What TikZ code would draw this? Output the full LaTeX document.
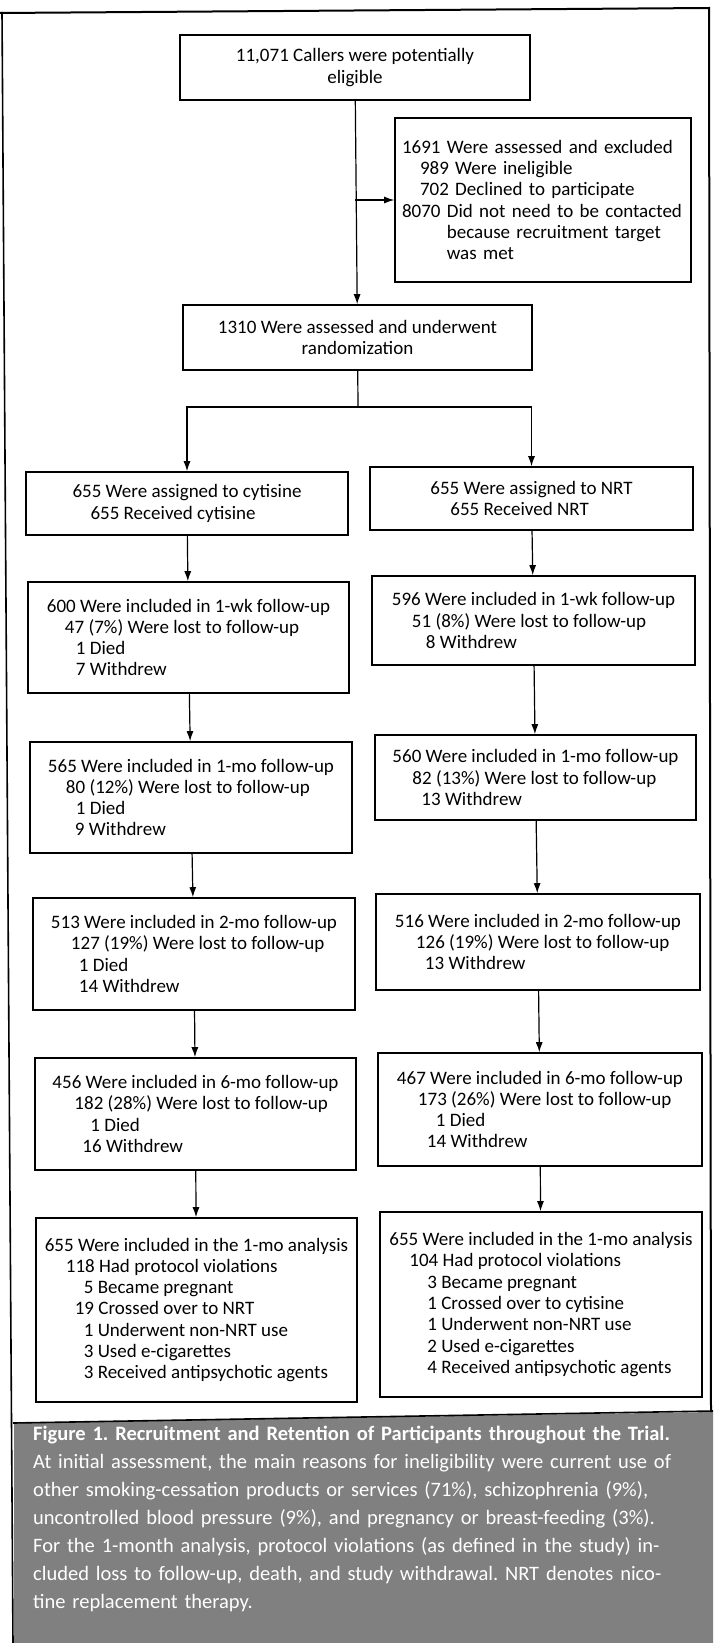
\documentclass[tikz,border=0pt]{standalone}
\usepackage{fontspec}
\setmainfont{Carlito}
\usetikzlibrary{arrows, arrows.meta}

\begin{document}
\frenchspacing
\begin{tikzpicture} [x = 1pt, y = -1pt,
  box/.style = {draw, line width = 1.6pt, inner sep = 0pt, align = left, font = \fontsize{19}{21.3}\selectfont},
  link/.style = {line width = 1.2pt, -{Latex[length = 10pt, width = 7pt]}},
  caption/.style = {anchor = north west, inner sep = 0pt, text width = 672pt, align = left, text = white, font = \fontsize{20.5}{28}\selectfont}]
\useasboundingbox (0,0) rectangle (713,1643);
\fill[black!50] (14,1423) -- (713,1412) -- (713,1643) -- (14,1643) -- cycle;
\draw[line width = 2pt] (0,13) -- (709,8) -- (711,1412);
\draw[line width = 1.6pt] (2,12) -- (13,1643);
\draw[line width = 1.6pt] (13,1423) -- (713,1411);
\node[box, align = center, minimum width = 350pt, minimum height = 65pt](a1) at (355,67.5){11,071 Callers were potentially\\eligible};
\node[box, text width = 282pt, minimum width = 296pt, minimum height = 164pt](a2) at (543,200){1691 Were assessed and excluded\\
  \hspace*{18pt}989 Were ineligible\\
  \hspace*{18pt}702 Declined to participate\\
  8070 Did not need to be contacted\\
  \phantom{8070 }because recruitment target\\
  \phantom{8070 }was met};
\node[box, align = center, minimum width = 349pt, minimum height = 65pt](a3) at (357.5,337.5){1310 Were assessed and underwent\\randomization};
\node[box, minimum width = 322pt, minimum height = 63pt](b1) at (187,503.5){655 Were assigned to cytisine\\
  \hspace*{18pt}655 Received cytisine};
\node[box, minimum width = 323pt, minimum height = 63pt](c1) at (531.5,498.5){655 Were assigned to NRT\\
  \hspace*{20pt}655 Received NRT};
\node[box, minimum width = 321pt, minimum height = 111pt](b2) at (188.5,637.5){600 Were included in 1-wk follow-up\\
  \hspace*{18pt}47 (7\%) Were lost to follow-up\\
  \hspace*{29pt}1 Died\\
  \hspace*{29pt}7 Withdrew};
\node[box, minimum width = 323pt, minimum height = 89pt](c2) at (533.5,620.5){596 Were included in 1-wk follow-up\\
  \hspace*{20pt}51 (8\%) Were lost to follow-up\\
  \hspace*{34pt}8 Withdrew};
\node[box, minimum width = 322pt, minimum height = 111pt](b3) at (191,797.5){565 Were included in 1-mo follow-up\\
  \hspace*{18pt}80 (12\%) Were lost to follow-up\\
  \hspace*{28pt}1 Died\\
  \hspace*{27pt}9 Withdrew};
\node[box, minimum width = 321pt, minimum height = 85pt](c3) at (535.5,777.5){560 Were included in 1-mo follow-up\\
  \hspace*{20pt}82 (13\%) Were lost to follow-up\\
  \hspace*{29pt}13 Withdrew};
\node[box, minimum width = 322pt, minimum height = 112pt](b4) at (194,954){513 Were included in 2-mo follow-up\\
  \hspace*{20pt}127 (19\%) Were lost to follow-up\\
  \hspace*{28pt}1 Died\\
  \hspace*{28pt}14 Withdrew};
\node[box, minimum width = 324pt, minimum height = 96pt](c4) at (538,942){516 Were included in 2-mo follow-up\\
  \hspace*{21pt}126 (19\%) Were lost to follow-up\\
  \hspace*{30pt}13 Withdrew};
\node[box, minimum width = 321pt, minimum height = 112pt](b5) at (195.5,1114){456 Were included in 6-mo follow-up\\
  \hspace*{22pt}182 (28\%) Were lost to follow-up\\
  \hspace*{38pt}1 Died\\
  \hspace*{30pt}16 Withdrew};
\node[box, minimum width = 324pt, minimum height = 113pt](c5) at (540,1109.5){467 Were included in 6-mo follow-up\\
  \hspace*{21pt}173 (26\%) Were lost to follow-up\\
  \hspace*{39pt}1 Died\\
  \hspace*{30pt}14 Withdrew};
\node[box, minimum width = 321pt, minimum height = 184pt](b6) at (196.5,1310){655 Were included in the 1-mo analysis\\
  \hspace*{21pt}118 Had protocol violations\\
  \hspace*{39pt}5 Became pregnant\\
  \hspace*{30pt}19 Crossed over to NRT\\
  \hspace*{39pt}1 Underwent non-NRT use\\
  \hspace*{39pt}3 Used e-cigarettes\\
  \hspace*{39pt}3 Received antipsychotic agents};
\node[box, minimum width = 322pt, minimum height = 185pt](c6) at (541,1304.5){655 Were included in the 1-mo analysis\\
  \hspace*{20pt}104 Had protocol violations\\
  \hspace*{38pt}3 Became pregnant\\
  \hspace*{38pt}1 Crossed over to cytisine\\
  \hspace*{38pt}1 Underwent non-NRT use\\
  \hspace*{38pt}2 Used e-cigarettes\\
  \hspace*{38pt}4 Received antipsychotic agents};
\node[caption](cap) at (33,1426){\textbf{Figure 1. Recruitment and Retention of Participants throughout the Trial.}\\
  At initial assessment, the main reasons for ineligibility were current use of\\
  other smoking-cessation products or services (71\%), schizophrenia (9\%),\\
  uncontrolled blood pressure (9\%), and pregnancy or breast-feeding (3\%).\\
  For the 1-month analysis, protocol violations (as defined in the study) in-\\
  cluded loss to follow-up, death, and study withdrawal. NRT denotes nico-\\
  tine replacement therapy.};
\coordinate (s) at (358,407);
\draw[link] (a1) -- (a3);
\draw[link] (a1 |- a2) -- (a2);
\draw[line width = 1.2pt] (a3) -- (s);
\draw[link] (s) -| (b1);
\draw[link] (s) -| (c1);
\draw[link] (b1) -- (b2);
\draw[link] (b2) -- (b3);
\draw[link] (b3) -- (b4);
\draw[link] (b4) -- (b5);
\draw[link] (b5) -- (b6);
\draw[link] (c1) -- (c2);
\draw[link] (c2) -- (c3);
\draw[link] (c3) -- (c4);
\draw[link] (c4) -- (c5);
\draw[link] (c5) -- (c6);
\end{tikzpicture}
\end{document}
